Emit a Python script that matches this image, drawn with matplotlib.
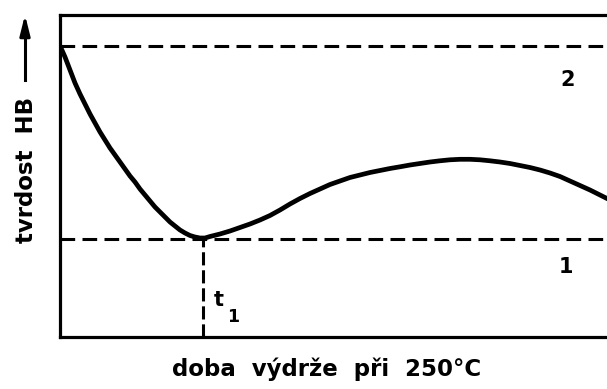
import matplotlib
matplotlib.use("Agg")
import matplotlib.pyplot as plt

# Hardness (arbitrary units) versus holding time at 250 °C
time = [1, 5, 10, 15, 20, 25, 30, 35, 40, 45, 50, 55, 60, 65, 70, 75, 80,
        85, 90, 95, 100, 105, 110, 115, 120, 125, 130, 135, 140, 145,
        150, 160, 170, 180, 190, 200, 210, 220, 230, 240, 250, 260, 270,
        280, 290, 300, 310, 320, 330, 340, 350, 360, 370, 380, 390, 400,
        410, 420, 430, 440, 450, 460, 470, 480, 490, 500, 510, 520, 530,
        540, 550, 560]
hardness = [289, 280, 267, 254, 243, 233, 223, 214, 205, 197, 189, 182,
            175, 168, 161, 155, 148, 142, 136, 130, 125, 120, 115, 111,
            107, 104, 101.5, 100, 99, 99,
            100.5, 103, 106, 109.5, 113, 117, 121.5, 127, 133, 138.5,
            143.5, 148, 152.5, 156, 159.5, 162, 164.5, 166.5, 168.5, 170.2,
            172, 173.5, 175, 176.2, 177.2, 177.7, 177.7, 177.2, 176.2, 175,
            173.5, 171.5, 169.5, 167, 164, 160.5, 156, 151.5, 147, 142,
            137, 132]

level_1 = 98      # hardness after full softening
level_2 = 291     # initial hardness
t1 = 143          # time of minimum hardness

W, H = 607, 389
fig = plt.figure(figsize=(W / 100, H / 100), dpi=100)
fig.patch.set_facecolor("white")

# axes box continues past the right edge of the figure
ax = fig.add_axes([60 / W, (H - 337) / H, (680 - 60) / W, (337 - 15) / H])
ax.set_xlim(0, 620)
ax.set_ylim(0, 322)
ax.set_xticks([])
ax.set_yticks([])
for s in ax.spines.values():
    s.set_linewidth(2.3)
    s.set_color("black")

dash = (0, (4.8, 2.4))
ax.axhline(level_2, color="black", lw=2.2, linestyle=dash)
ax.axhline(level_1, color="black", lw=2.2, linestyle=dash)
ax.plot([t1, t1], [0, level_1], color="black", lw=2.2, linestyle=(0, (4.3, 1.6)))

ax.plot(time, hardness, color="black", lw=3.4, solid_joinstyle="round",
        solid_capstyle="round")

font = dict(family="DejaVu Sans", weight="bold", color="black")
ax.text(508, 257, "2", fontsize=15, ha="center", va="center", **font)
ax.text(506, 70, "1", fontsize=15, ha="center", va="center", **font)
ax.text(159, 37, "t", fontsize=15, ha="center", va="center", **font)
ax.text(173, 20, "1", fontsize=12.5, ha="center", va="center", **font)

fig.text(327 / W, 1 - 369 / H, "doba  výdrže  při  250°C", fontsize=16.5,
         ha="center", va="center", **font)
fig.text(27 / W, 1 - 170 / H, "tvrdost  HB", fontsize=16.5, rotation=90,
         ha="center", va="center", **font)
fig.add_artist(plt.Line2D([25 / W, 25 / W], [1 - 80 / H, 1 - 30 / H],
                          color="black", lw=2.2))
ax.annotate("", xy=(25 / W, 1 - 12 / H), xytext=(25 / W, 1 - 40 / H),
            xycoords="figure fraction", textcoords="figure fraction",
            arrowprops=dict(arrowstyle="-|>,head_length=1.2,head_width=0.3",
                            color="black", lw=2.2))

fig.savefig("out.png", dpi=100, facecolor="white")
